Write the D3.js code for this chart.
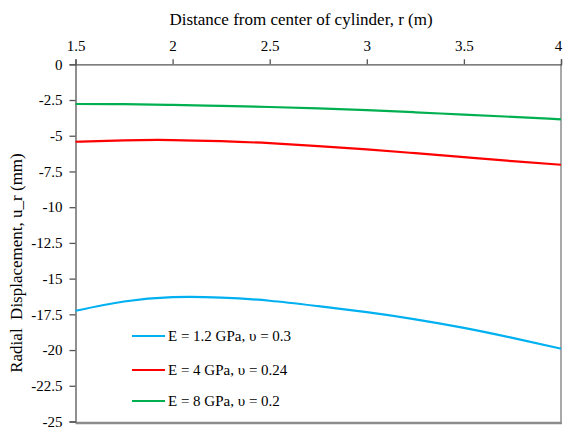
<!DOCTYPE html>
<html><head><meta charset="utf-8">
<script src="https://cdn.jsdelivr.net/npm/d3@7"></script>
<style>body{margin:0;background:#fff}svg{display:block}</style>
</head><body>
<svg id="c" width="563" height="430"></svg>
<script>
const radius = [1.5, 1.75, 2.0, 2.25, 2.5, 2.75, 3.0, 3.25, 3.5, 3.75, 4.0];
const uE12 = [-17.25, -16.6, -16.3, -16.33, -16.55, -16.93, -17.35, -17.85, -18.45, -19.15, -19.9];
const uE4  = [-5.42, -5.32, -5.30, -5.38, -5.52, -5.72, -5.95, -6.22, -6.5, -6.78, -7.03];
const uE8  = [-2.78, -2.79, -2.84, -2.91, -2.99, -3.09, -3.21, -3.36, -3.52, -3.68, -3.85];
const seriesNames = ["E = 1.2 GPa, \u03c5 = 0.3", "E = 4 GPa, \u03c5 = 0.24", "E = 8 GPa, \u03c5 = 0.2"];
const seriesColors = ["#00B0F0", "#FF0000", "#00B050"];
const xTicks = [1.5, 2, 2.5, 3, 3.5, 4];
const yTicks = [0, -2.5, -5, -7.5, -10, -12.5, -15, -17.5, -20, -22.5, -25];

const FONT = "'Liberation Serif', 'Times New Roman', serif";
const svg = d3.select("#c");
const L = 75.5, R = 561, T = 64.3, B = 421.5;
const x = d3.scaleLinear().domain([1.5, 4]).range([L, R]);
const y = d3.scaleLinear().domain([0, -25]).range([T, B]);

// border right & bottom
svg.append("line").attr("x1", R).attr("x2", R).attr("y1", T).attr("y2", B + 1)
  .attr("stroke", "#8c8c8c").attr("stroke-width", 1.5);
svg.append("line").attr("x1", L).attr("x2", R + 1).attr("y1", B + 1.5).attr("y2", B + 1.5)
  .attr("stroke", "#8c8c8c").attr("stroke-width", 2.5);

const xAxis = svg.append("g").attr("transform", `translate(0,${y(0)})`)
  .call(d3.axisTop(x).tickValues(xTicks).tickSize(5).tickPadding(8).tickFormat(d3.format("")));
const yAxis = svg.append("g").attr("transform", `translate(${L},0)`)
  .call(d3.axisLeft(y).tickValues(yTicks).tickSize(6).tickPadding(7).tickFormat(d => String(d)));
[xAxis, yAxis].forEach(g => {
  g.attr("font-family", FONT).attr("font-size", 15);
  g.select(".domain").attr("stroke", "#555").attr("stroke-width", 1.3);
  g.selectAll(".tick line").attr("stroke", "#555").attr("stroke-width", 1.3);
  g.selectAll(".tick text").attr("font-family", FONT).attr("font-size", 15).attr("fill", "#000");
});
// last x label sits at the very edge; nudge inwards so it stays visible
xAxis.selectAll(".tick text").filter(d => d === 4).attr("dx", -3);

const lineGen = d3.line().x(d => x(d[0])).y(d => y(d[1])).curve(d3.curveNatural);
[uE12, uE4, uE8].forEach((vals, i) => {
  svg.append("path").datum(radius.map((r, j) => [r, vals[j]]))
    .attr("d", lineGen).attr("fill", "none").attr("stroke", seriesColors[i]).attr("stroke-width", 2.2);
});

svg.append("text").attr("x", 301).attr("y", 25).attr("text-anchor", "middle")
  .attr("font-family", FONT).attr("font-size", 17).text("Distance from center of cylinder,  r (m)");
svg.append("text").attr("transform", "translate(22,263) rotate(-90)").attr("text-anchor", "middle")
  .attr("xml:space", "preserve").attr("font-family", FONT).attr("font-size", 17)
  .text("Radial  Displacement, u_r (mm)");

const leg = svg.append("g");
const legY = [336, 370, 401];
seriesNames.forEach((n, i) => {
  leg.append("line").attr("x1", 132).attr("x2", 165).attr("y1", legY[i]).attr("y2", legY[i])
    .attr("stroke", seriesColors[i]).attr("stroke-width", 2.2);
  leg.append("text").attr("x", 168).attr("y", legY[i] + 5).attr("font-family", FONT)
    .attr("font-size", 15).text(n);
});
</script>
</body></html>
